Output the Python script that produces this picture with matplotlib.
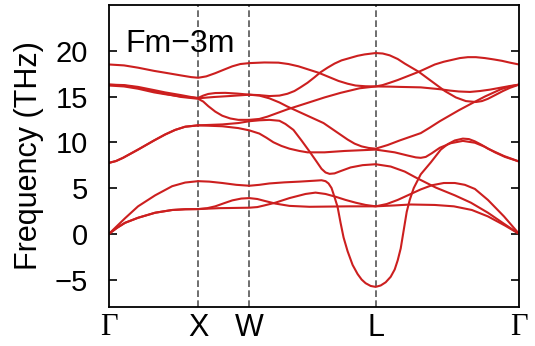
import matplotlib.pyplot as plt

plt.rcParams['font.family'] = ['Liberation Sans', 'DejaVu Sans']

# high-symmetry points along the path (path units)
sym_labels = ['Γ', 'X', 'W', 'L', 'Γ']
sym_pos = [0, 89, 140, 266, 409]

# phonon branches: path position / frequency (THz)
band1_k = [0, 8, 16, 29, 46, 63, 76, 89, 110, 140, 148, 155, 166, 180, 196, 206, 216, 226, 236, 246, 256, 266,
           285, 301, 325, 344, 362, 378, 395, 409]
band1_f = [0.0, 0.65, 1.2, 1.75, 2.3, 2.6, 2.68, 2.7, 2.8, 2.85, 2.92, 3.1, 3.4, 3.9, 4.35, 4.5, 4.35, 4.05, 3.7, 3.4, 3.15, 3.0,
           3.1, 3.2, 3.15, 3.0, 2.6, 1.9, 0.9, 0.0]

band2_k = [0, 8, 16, 29, 46, 63, 76, 89, 98, 106, 115, 123, 132, 140, 148, 155, 166, 180, 200, 240, 266,
           277, 288, 300, 311, 322, 334, 345, 355, 365, 378, 394, 409]
band2_f = [0.0, 0.65, 1.2, 1.75, 2.3, 2.6, 2.68, 2.7, 2.8, 3.0, 3.35, 3.65, 3.85, 3.9, 3.8, 3.6, 3.3, 3.05, 2.95, 3.0, 3.0,
           3.25, 3.7, 4.3, 4.85, 5.3, 5.55, 5.55, 5.35, 4.9, 3.7, 1.9, 0.0]

band3_k = [0, 8, 16, 29, 46, 63, 76, 89, 100, 113, 127, 140, 150, 160, 175, 190, 205, 212, 216, 219, 222, 225,
           228, 231, 234, 238, 243, 248, 252, 256, 261, 266, 271, 276, 281, 285, 288, 291, 294, 297,
           300, 304, 311, 321, 331, 338, 345, 353, 359, 365, 372, 378, 394, 409]
band3_f = [0.0, 0.85, 1.7, 3.0, 4.2, 5.2, 5.6, 5.75, 5.7, 5.55, 5.35, 5.25, 5.35, 5.5, 5.62, 5.7, 5.8, 5.85, 5.75, 5.5, 5.0, 4.0,
           2.95, 1.2, -0.4, -1.9, -3.4, -4.4, -5.0, -5.4, -5.7, -5.8, -5.65, -5.3, -4.7, -3.9, -2.9, -1.6, 0.4, 2.4,
           3.7, 5.0, 6.5, 7.8, 9.2, 9.8, 10.2, 10.4, 10.35, 10.1, 9.7, 9.3, 8.5, 7.9]

band4_k = [0, 7, 14, 29, 45, 56, 66, 76, 89, 113, 129, 140, 150, 160, 170, 176, 184, 192, 200, 207, 212,
           216, 220, 225, 231, 241, 253, 266, 281, 295, 306, 316, 326, 345, 361, 378, 394, 409]
band4_f = [7.75, 7.95, 8.3, 9.2, 10.2, 10.85, 11.35, 11.7, 11.85, 11.95, 12.1, 12.3, 12.4, 12.45, 12.35, 12.0, 11.35, 10.2, 9.0, 7.9, 7.1,
           6.7, 6.55, 6.6, 6.85, 7.25, 7.5, 7.6, 7.35, 6.8, 6.15, 5.6, 5.05, 4.2, 3.4, 2.3, 1.1, 0.0]

band5_k = [0, 7, 14, 29, 45, 56, 66, 76, 89, 113, 129, 140, 150, 157, 164, 172, 180, 190, 198, 215, 235, 266,
           285, 298, 306, 311, 316, 322, 330, 341, 353, 365, 375, 385, 395, 409]
band5_f = [7.75, 7.95, 8.3, 9.2, 10.2, 10.85, 11.35, 11.7, 11.85, 11.75, 11.55, 11.3, 10.95, 10.5, 10.0, 9.6, 9.3, 9.05, 8.9, 8.9, 9.05, 9.2,
           8.9, 8.55, 8.35, 8.3, 8.4, 8.8, 9.4, 9.9, 10.15, 9.95, 9.5, 8.9, 8.4, 7.9]

band6_k = [0, 15, 29, 45, 56, 72, 89, 94, 99, 106, 113, 121, 129, 140, 150, 158, 168, 178, 188, 198, 215, 231, 250, 266,
           280, 290, 311, 330, 340, 349, 360, 370, 380, 390, 400, 409]
band6_f = [16.3, 16.2, 15.95, 15.55, 15.3, 14.95, 14.75, 14.45, 13.95, 13.35, 12.9, 12.6, 12.45, 12.45, 12.55, 12.8, 13.2, 13.6, 13.95, 14.3, 14.9, 15.4, 15.9, 16.1,
           16.08, 16.05, 16.0, 15.8, 15.65, 15.55, 15.5, 15.6, 15.75, 15.95, 16.15, 16.3]

band7_k = [0, 15, 29, 45, 56, 72, 89, 94, 99, 106, 116, 128, 140, 150, 160, 170, 178, 190, 200, 214, 226, 238, 245, 252, 259, 266,
           278, 290, 311, 320, 330, 349, 361, 375, 391, 400, 409]
band7_f = [16.2, 16.1, 15.85, 15.45, 15.25, 15.0, 14.85, 15.1, 15.28, 15.38, 15.4, 15.32, 15.2, 15.1, 14.8, 14.35, 13.9, 13.3, 12.8, 12.1, 11.2, 10.3, 9.85, 9.55, 9.38, 9.3,
           9.7, 10.2, 11.0, 11.6, 12.3, 13.5, 14.2, 15.0, 15.8, 16.1, 16.3]

band8_k = [0, 15, 29, 45, 56, 72, 89, 97, 105, 120, 140, 150, 160, 170, 178, 185, 191, 198, 205, 211, 218, 225, 232, 240, 248, 255, 266,
           273, 280, 288, 295, 302, 309, 322, 335, 346, 356, 366, 372, 378, 386, 393, 400, 409]
band8_f = [16.3, 16.25, 16.05, 15.7, 15.45, 15.15, 14.8, 14.88, 14.95, 15.05, 15.2, 15.15, 15.05, 15.1, 15.3, 15.6, 16.0, 16.5, 17.1, 17.65, 18.15, 18.6, 18.95, 19.2, 19.45, 19.6, 19.75,
           19.7, 19.5, 19.1, 18.6, 18.15, 17.7, 16.65, 15.6, 14.9, 14.5, 14.4, 14.5, 14.75, 15.2, 15.6, 15.95, 16.3]

band9_k = [0, 15, 29, 45, 56, 72, 82, 89, 97, 106, 115, 123, 131, 140, 155, 169, 179, 189, 199, 209, 219, 229, 238, 246, 256, 266,
           273, 280, 288, 295, 302, 309, 317, 325, 334, 342, 350, 358, 366, 375, 384, 392, 400, 409]
band9_f = [18.5, 18.4, 18.15, 17.8, 17.6, 17.3, 17.12, 17.05, 17.2, 17.55, 17.95, 18.3, 18.55, 18.65, 18.72, 18.7, 18.55, 18.3, 17.95, 17.6, 17.15, 16.7, 16.4, 16.2, 16.12, 16.1,
           16.25, 16.5, 16.8, 17.1, 17.4, 17.7, 18.1, 18.5, 18.8, 19.0, 19.2, 19.3, 19.3, 19.2, 19.05, 18.9, 18.7, 18.5]

bands = [(band1_k, band1_f), (band2_k, band2_f), (band3_k, band3_f),
         (band4_k, band4_f), (band5_k, band5_f), (band6_k, band6_f),
         (band7_k, band7_f), (band8_k, band8_f), (band9_k, band9_f)]

fig = plt.figure(figsize=(5.35, 3.46), dpi=100)
ax = fig.add_axes([109 / 535, 39 / 346, 410 / 535, 302 / 346])

# dashed markers at the inner high-symmetry points
for x in sym_pos[1:-1]:
    ax.axvline(x, color='#555555', lw=1.2, ls=(0, (4, 2)), zorder=1)

for k, f in bands:
    ax.plot(k, f, color='#cc1f1f', lw=1.5, solid_joinstyle='round', zorder=2)

ax.set_xlim(sym_pos[0], sym_pos[-1])
ax.set_ylim(-8, 25)
ax.set_yticks([-5, 0, 5, 10, 15, 20])
ax.set_xticks(sym_pos)
ax.set_xticklabels(sym_labels, fontsize=22)
for lab in ax.get_xticklabels():
    if lab.get_text() == 'Γ':
        lab.set_fontfamily('Liberation Serif')

ax.tick_params(axis='y', direction='in', length=6, width=1.2, right=True,
               labelsize=21, pad=15)
ax.tick_params(axis='x', length=0, pad=4)
for s in ax.spines.values():
    s.set_linewidth(1.3)

ax.set_ylabel('Frequency (THz)', fontsize=22, labelpad=8)
ax.text(0.039, 0.844, 'Fm\u22123m', transform=ax.transAxes, fontsize=23,
        ha='left', va='baseline')

fig.savefig('out.png', dpi=100)
